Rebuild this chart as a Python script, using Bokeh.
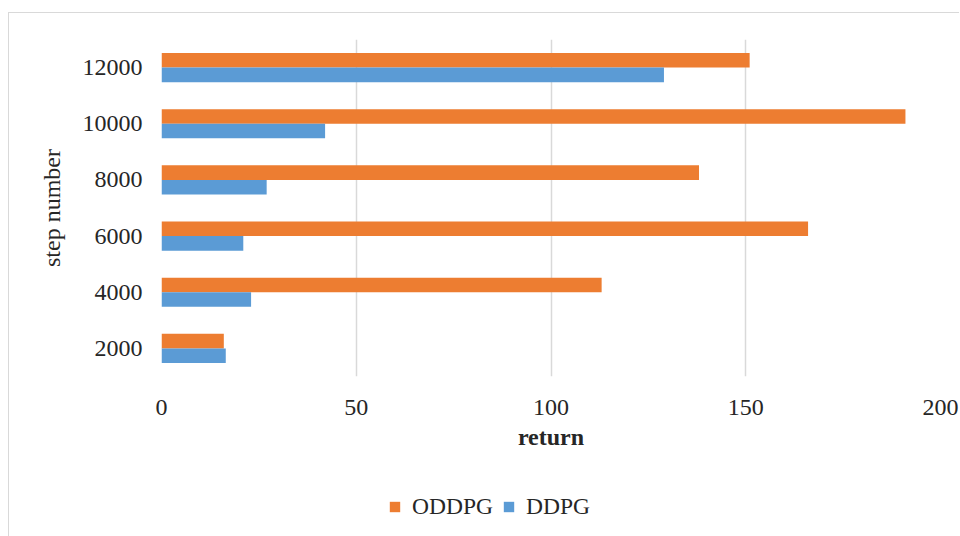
from bokeh.plotting import figure
from bokeh.models import ColumnDataSource, FactorRange, Legend, LegendItem, Range1d
from bokeh.layouts import column
from bokeh.transform import dodge
from bokeh.embed import file_html
from bokeh.resources import INLINE

steps = ["2000", "4000", "6000", "8000", "10000", "12000"]
oddpg = [16, 113, 166, 138, 191, 151]
ddpg = [16.5, 23, 21, 27, 42, 129]
x_ticks = [0, 50, 100, 150, 200]
series_names = ["ODDPG", "DDPG"]
series_fields = ["oddpg", "ddpg"]
series_colors = ["#ED7D31", "#5B9BD5"]

source = ColumnDataSource(data=dict(steps=steps, oddpg=oddpg, ddpg=ddpg))

FONT = "Liberation Serif"
TXT = "#262626"

p = figure(
    frame_width=779, frame_height=337,
    y_range=FactorRange(factors=steps, range_padding=0),
    x_range=Range1d(0, 200),
    output_backend="svg", toolbar_location=None,
    min_border_left=152, min_border_right=19,
    min_border_top=26, min_border_bottom=85,
)
p.outline_line_color = None
p.background_fill_color = "white"
p.border_fill_color = "white"

offsets = [0.13, -0.13]
for field, col, off in zip(series_fields, series_colors, offsets):
    p.hbar(y=dodge("steps", off, range=p.y_range), right=field, left=0,
           height=0.26, source=source, fill_color=col, line_color=None)

p.xaxis.ticker = x_ticks
p.ygrid.grid_line_color = None
p.xgrid.grid_line_color = "#d9d9d9"
p.xgrid.grid_line_width = 1.5

for ax in (p.xaxis[0], p.yaxis[0]):
    ax.axis_line_color = None
    ax.major_tick_line_color = None
    ax.minor_tick_line_color = None
    ax.major_label_text_font = FONT
    ax.major_label_text_font_size = "24px"
    ax.major_label_text_color = TXT
    ax.axis_label_text_font = FONT
    ax.axis_label_text_font_size = "24px"
    ax.axis_label_text_color = TXT

p.xaxis.axis_label = "return"
p.xaxis.axis_label_text_font_style = "bold"
p.xaxis.major_label_standoff = 17
p.xaxis.axis_label_standoff = 6
p.yaxis.axis_label = "step number"
p.yaxis.axis_label_text_font_style = "normal"
p.yaxis.major_label_standoff = 13
p.yaxis.axis_label_standoff = 15

# legend strip (its proxy bars have zero height and lie outside its view)
lg = figure(
    width=950, height=75, x_range=Range1d(1000, 1001),
    y_range=FactorRange(factors=steps),
    x_axis_type=None, y_axis_type=None,
    output_backend="svg", toolbar_location=None, min_border=0,
)
lg.outline_line_color = None
lg.grid.grid_line_color = None
lg.border_fill_color = "white"
items = []
for name, field, col in zip(series_names, series_fields, series_colors):
    r = lg.hbar(y="steps", right=field, left=0, height=0, source=source,
                fill_color=col, line_color=None)
    items.append(LegendItem(label=name, renderers=[r]))

legend = Legend(
    items=items, orientation="horizontal", location=(227, 16),
    label_text_font=FONT, label_text_font_size="23.5px", label_text_color=TXT,
    glyph_width=13, glyph_height=13, label_standoff=11, spacing=9,
    border_line_color=None, background_fill_alpha=0, padding=0, margin=0,
)
lg.add_layout(legend, "center")

layout = column(p, lg, spacing=0)
layout.margin = (12, 0, 0, 8)
layout.styles = {"border-left": "1px solid #d9d9d9", "border-top": "1px solid #d9d9d9"}

open("out.html", "w").write(file_html(layout, INLINE))
